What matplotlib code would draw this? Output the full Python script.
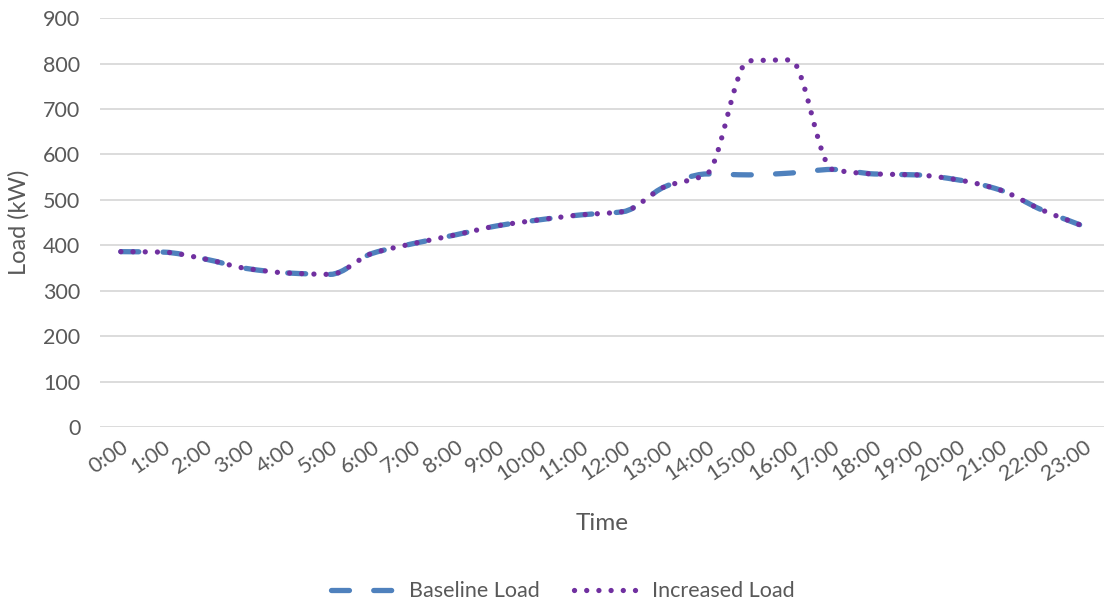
import numpy as np
import matplotlib
matplotlib.use("Agg")
import matplotlib.pyplot as plt
from matplotlib.path import Path
from matplotlib.patches import PathPatch
from matplotlib.lines import Line2D

plt.rcParams['font.family'] = ['Lato', 'DejaVu Sans']

hours = [f"{h}:00" for h in range(24)]
baseline_load = [386, 385, 370, 349, 339, 336, 382, 404, 423, 443, 456, 467,
                 474, 529, 557, 555, 559, 567, 557, 555, 544, 522, 478, 442]
increased_load = [386, 385, 370, 349, 339, 336, 382, 404, 423, 443, 456, 467,
                  474, 529, 557, 806, 808, 567, 557, 555, 544, 522, 478, 442]

BLUE = "#4F81BD"
PURPLE = "#7030A0"
TEXT = "#595959"
GRID = "#D9D9D9"
LW = 3.8
DASHED = (0, (3.4, 4.6))
DOTTED = (0, (0.01, 2.3))


def smooth_path(x, y):
    """Shape-preserving cubic Bezier path through the points.

    Tangents use the weighted harmonic mean of neighbouring slopes, so the
    curve stays flat at local extremes and does not overshoot steep jumps.
    """
    x = np.asarray(x, dtype=float)
    y = np.asarray(y, dtype=float)
    n = len(x)
    h = np.diff(x)
    s = np.diff(y) / h
    m = np.zeros(n)
    m[0], m[-1] = s[0], s[-1]
    for i in range(1, n - 1):
        if s[i - 1] * s[i] > 0:
            w1 = 2 * h[i] + h[i - 1]
            w2 = h[i] + 2 * h[i - 1]
            m[i] = (w1 + w2) / (w1 / s[i - 1] + w2 / s[i])
    verts = [(x[0], y[0])]
    codes = [Path.MOVETO]
    for i in range(n - 1):
        d = h[i] / 3.0
        verts += [(x[i] + d, y[i] + m[i] * d),
                  (x[i + 1] - d, y[i + 1] - m[i + 1] * d),
                  (x[i + 1], y[i + 1])]
        codes += [Path.CURVE4] * 3
    return Path(verts, codes)


fig = plt.figure(figsize=(11.10, 6.04), dpi=100)
ax = fig.add_axes([0.090, 0.293, 0.905, 0.677])

x = np.arange(len(hours))
ax.set_xlim(-0.5, len(hours) - 0.5)
ax.set_ylim(0, 900)

base_patch = PathPatch(smooth_path(x, baseline_load), fill=False,
                       edgecolor=BLUE, linewidth=LW, capstyle='round',
                       joinstyle='round', zorder=3)
base_patch.set_linestyle(DASHED)
ax.add_patch(base_patch)

inc_patch = PathPatch(smooth_path(x, increased_load), fill=False,
                      edgecolor=PURPLE, linewidth=LW, capstyle='round',
                      joinstyle='round', zorder=4)
inc_patch.set_linestyle(DOTTED)
ax.add_patch(inc_patch)

ax.set_yticks(range(0, 1000, 100))
ax.set_xticks(x)
ax.set_xticklabels(hours, rotation=34, ha='right', rotation_mode='anchor')

ax.grid(axis='y', color=GRID, linewidth=1.3)
ax.set_axisbelow(True)
for s in ax.spines.values():
    s.set_visible(False)
ax.tick_params(axis='both', length=0, colors=TEXT, labelsize=15.5)
ax.tick_params(axis='y', pad=14)
ax.tick_params(axis='x', pad=7)

ax.set_xlabel("Time", fontsize=17.5, color=TEXT, labelpad=21)
ax.set_ylabel("Load (kW)", fontsize=17, color=TEXT, labelpad=10)

handles = [
    Line2D([], [], color=BLUE, linewidth=LW, linestyle=DASHED,
           dash_capstyle='round'),
    Line2D([], [], color=PURPLE, linewidth=LW, linestyle=DOTTED,
           dash_capstyle='round'),
]
fig.legend(handles, ["Baseline Load", "Increased Load"], loc='center',
           bbox_to_anchor=(0.507, 0.021), ncol=2, frameon=False,
           fontsize=15.5, labelcolor=TEXT, handlelength=3.0, columnspacing=1.6,
           handletextpad=0.6)

fig.savefig("out.png", dpi=100)
